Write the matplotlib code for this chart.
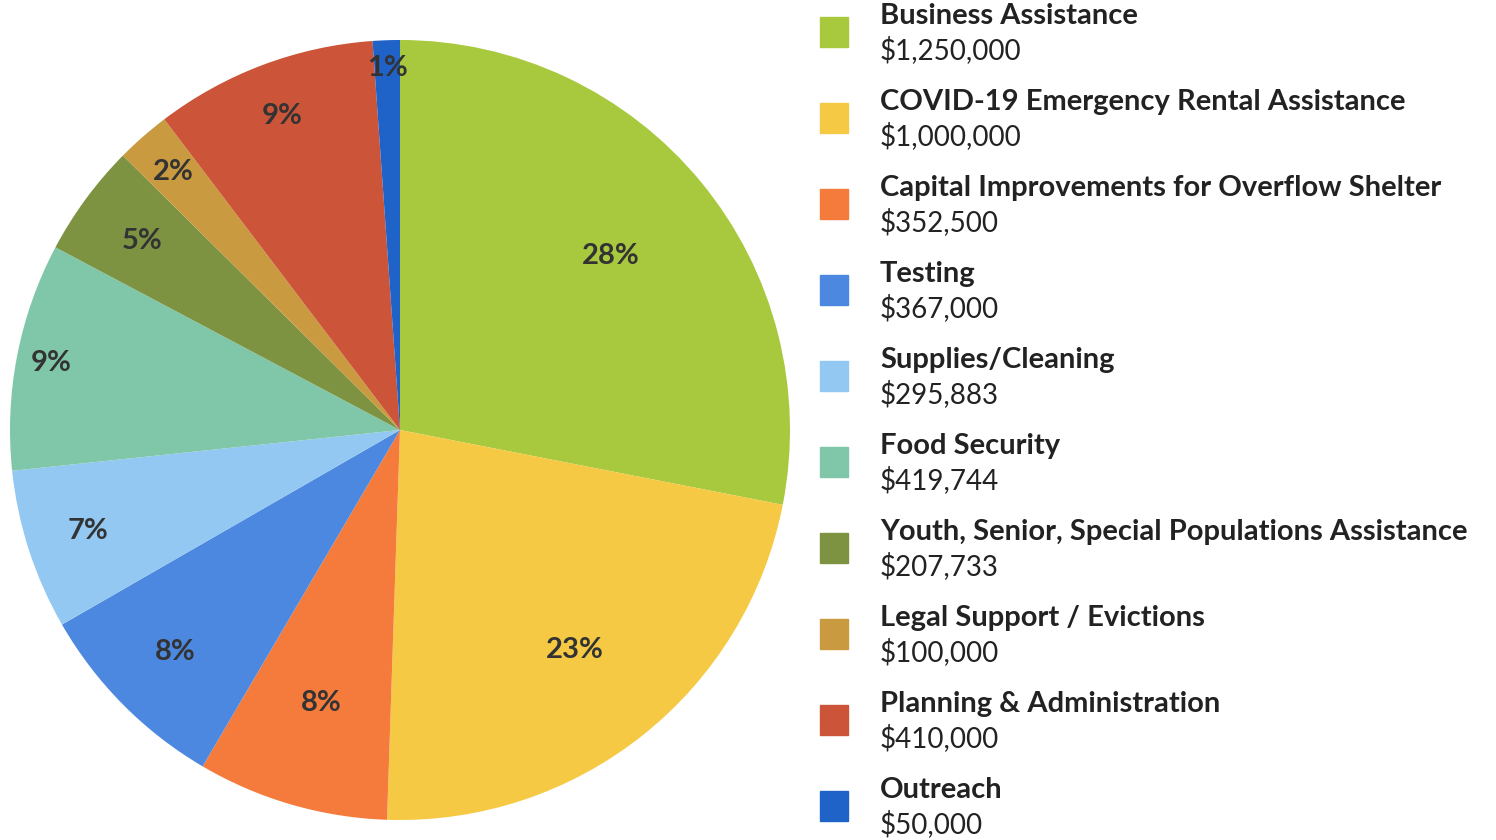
import matplotlib
matplotlib.use("Agg")
import matplotlib.pyplot as plt
from matplotlib.patches import Rectangle
import numpy as np

# データ
categories = [
    "Business Assistance",
    "COVID-19 Emergency Rental Assistance",
    "Capital Improvements for Overflow Shelter",
    "Testing",
    "Supplies/Cleaning",
    "Food Security",
    "Youth, Senior, Special Populations Assistance",
    "Legal Support / Evictions",
    "Planning & Administration",
    "Outreach",
]
amounts = [1250000, 1000000, 352500, 367000, 295883, 419744, 207733, 100000, 410000, 50000]
colors = ["#a8c83e", "#f6c945", "#f47b3c", "#4c88e0", "#92c8f2",
          "#80c7a9", "#7e9342", "#c99a40", "#cc5439", "#1f63c9"]

# ラベル位置（半径比）
label_r = [0.70, 0.72, 0.73, 0.81, 0.84, 0.91, 0.82, 0.88, 0.86, 0.93]

plt.rcParams["font.family"] = ["Lato", "DejaVu Sans"]

# 合計100%になるように丸める（最大剰余法）
raw = np.array(amounts) / sum(amounts) * 100
pct = np.floor(raw).astype(int)
rest = 100 - pct.sum()
for k in np.argsort(-(raw - pct))[:rest]:
    pct[k] += 1

fig = plt.figure(figsize=(14.96, 8.4), dpi=100)
ax = fig.add_axes([10/1496, 20/840, 780/1496, 780/840])

wedges, _ = ax.pie(amounts, colors=colors, startangle=90, counterclock=False,
                   radius=1.0, wedgeprops=dict(linewidth=0))
ax.set_xlim(-1, 1)
ax.set_ylim(-1, 1)
ax.set_aspect("equal")
ax.axis("off")

for w, p, rr in zip(wedges, pct, label_r):
    ang = np.deg2rad((w.theta1 + w.theta2) / 2)
    ax.text(rr*np.cos(ang), rr*np.sin(ang), f"{p}%",
            ha="center", va="center", fontsize=21, fontweight="bold", color="#333333")

# 凡例
for i, (name, v, c) in enumerate(zip(categories, amounts, colors)):
    yc = 1 - (32 + 86*i)/840
    fig.patches.append(Rectangle((820/1496, yc - 15/840), 28/1496, 30/840,
                                 transform=fig.transFigure, color=c))
    fig.text(880/1496, yc + 16/840, name, ha="left", va="center",
             fontsize=21, fontweight="bold", color="#222222")
    fig.text(880/1496, yc - 18/840, f"${v:,}", ha="left", va="center",
             fontsize=20, color="#222222")

fig.savefig("out.png", dpi=100)
